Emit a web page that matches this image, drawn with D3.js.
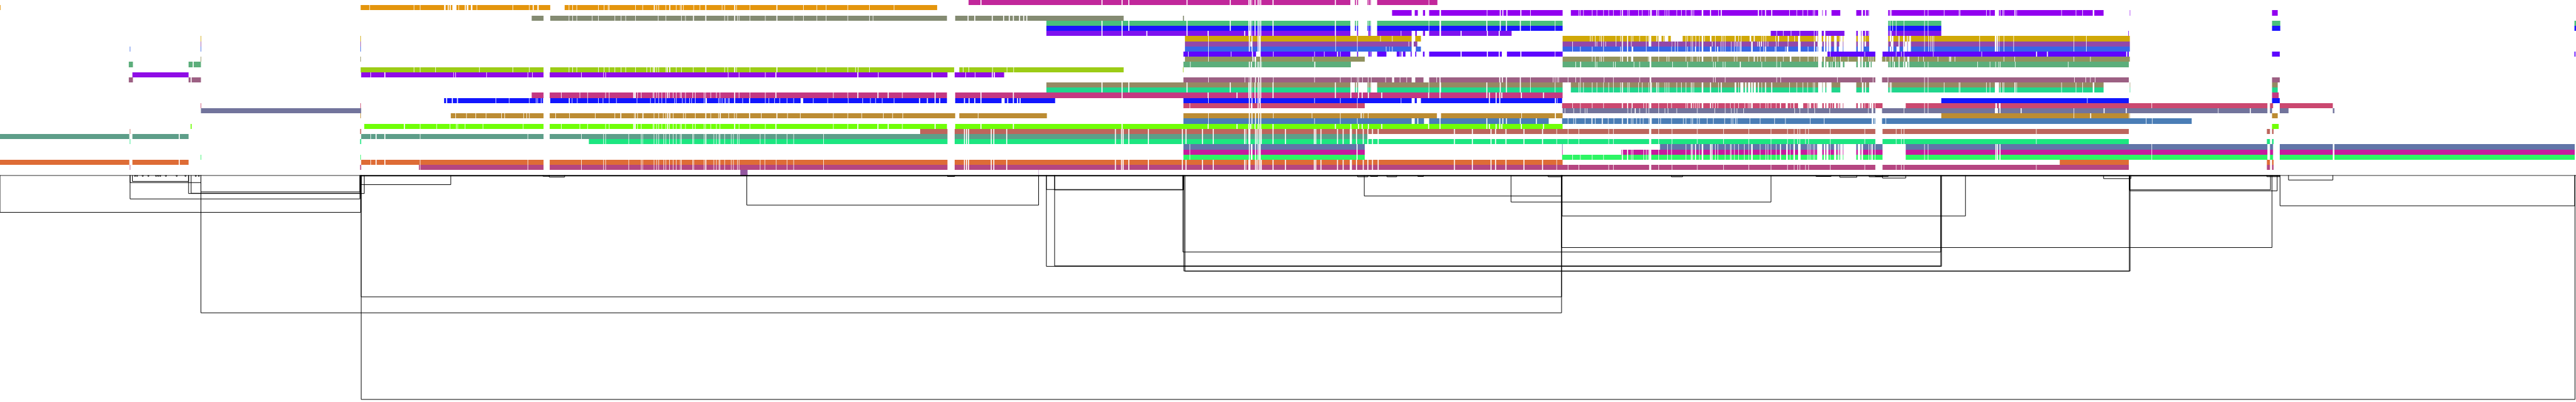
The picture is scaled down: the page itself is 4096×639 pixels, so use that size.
<!DOCTYPE html>
<html><head><meta charset="utf-8">
<script src="https://cdn.jsdelivr.net/npm/d3@7"></script>
<style>html,body{margin:0;padding:0;background:#fff;overflow:hidden}svg{display:block}</style>
</head><body><div id="chart"></div>
<script>
const WIDTH=4096, HEIGHT=639, REF_W=5000, REF_H=780, ROW_H=10;

const rowColors=["#c1279b","#e4950d","#9200f0","#848b72","#49c07c","#1c14ff","#7f12ef","#d0a807","#9248aa","#3867e6","#5e05ff","#91925e","#5cae7b","#9ccc16","#8f0ce6","#9c6083","#958963","#20d68c","#c43882","#1216ff","#cb4870","#72749c","#bc8c33","#4a7db6","#70ff07","#bd655c","#5d9e89","#1ce680","#6175a8","#c71b9d","#2df564","#de6c36","#b54681","#9458a0"];

// shared interval lists: [start,end,start,end,...] in genome-position units
const sharedA=[701,719,720,729,731,746,748,815,816,1024,1025,1055,1067,1128,1129,1171,1172,1175,1176,1220,1221,1244,1245,1247,1248,1269,1270,1274,1275,1278,1279,1288,1289,1292,1293,1299,1300,1306,1307,1312,1313,1320,1321,1322,1323,1344,1345,1346,1347,1366,1367,1369,1371,1385,1386,1390,1391,1395,1396,1397,1398,1406,1407,1419,1420,1423,1424,1431,1432,1434,1435,1475,1476,1484,1485,1506,1507,1527,1528,1540,1541,1598,1599,1839,1853,1871,1873,1875,1877,1879,1881,1923,1925,1928,1930,1953,1955,2164,2166,2176,2178,2179,2181,2190,2192,2228,2230,2294,2296,2301,2303,2333,2335,2354,2356,2415,2417,2418,2419,2423,2427,2436,2438,2439,2441,2443,2445,2446,2449,2470,2472,2494,2496,2550,2552,2553,2555,2563,2565,2595,2597,2606,2608,2620,2624,2632,2634,2645,2647,2654,2656,2663,2665,2674,2676,2822,2824,2857,2859,2893,2895,2902,2904,2922,2924,2957,2959,2993,2995,3021,3022,3043,3044,3064,3065,3122,3123,3131,3132,3201,3205,3219,3220,3245,3246,3294,3295,3345,3346,3394,3395,3437,3438,3469,3470,3482,3483,3489,3490,3493,3494,3504,3505,3510,3511,3552,3553,3619,3620,3640,3654,3680,3681,3690,3691,3695,3696,3952,3953,4132,4400,4406,4410,4413];
const sharedB=[2297,2309,2310,2424,2426,2428,2431,2436,2438,2441,2443,2444,2447,2633,2635,2649,3150,3158,3160,3166,3167,3169,3170,3190,3191,3195,3196,3199,3200,3201,3205,3219,3220,3236,3237,3244,3245,3272,3273,3282,3284,3285,3286,3290,3292,3298,3299,3303,3306,3319,3321,3322,3324,3329,3330,3334,3335,3348,3349,3358,3359,3360,3361,3366,3367,3374,3375,3385,3386,3394,3395,3399,3402,3416,3417,3427,3428,3431,3432,3437,3438,3447,3448,3455,3457,3467,3470,3474,3475,3481,3484,3490,3495,3508,3509,3511,3512,3514,3515,3519,3520,3522,3523,3527,3537,3540,3543,3545,3549,3552,3553,3560,3564,3567,3569,3570,3571,3572,3577,3578,3603,3606,3611,3613,3616,3627,3628,3631,3632,3633,3635,3639,3640,3654,3699,3735,3736,3742,3743,3873,3875,3876,3878,3881,3883,4176,4177,4401,4406,4412,4425,4528,4531,4997.5];
const sharedC=[1880,1903,1905,2138,2140,2177,2179,2190,2192,2303,2305,2387,2389,2423,2425,2426,2428,2429,2430,2435,2437,2441,2443,2444,2445,2446,2448,2470,2472,2591,2593,2621,2630,2632,2634,2636,2654,2655,2656,2659,2660,2661,2673,2773,2774,2794,2797,2885,2887,2911,2913,2923,2925,2950,2952,2970,2971,3018,3019,3033];
const sharedD=[3049,3064,3065,3067,3068,3073,3074,3090,3091,3099,3100,3112,3113,3122,3123,3131,3132,3145,3146,3148,3150,3159,3160,3162,3163,3180,3181,3187,3188,3200,3201,3203,3206,3215,3217,3219,3220,3231,3232,3235,3236,3239,3240,3254,3255,3263,3264,3272,3273,3282,3283,3284,3285,3287,3288,3303,3306,3319,3321,3335,3336,3340];
const sharedE=[1067,1089,1090,1125,1126,1140,1141,1175,1176,1182,1183,1229,1230.5,1231,1234,1237,1238,1244,1245,1267,1268,1269,1270,1274,1275,1278,1279,1284,1285,1292,1293,1295,1297,1299,1300,1306,1307,1312,1313,1320,1321,1322,1323,1330,1331,1344,1345,1349,1350,1366,1367,1369,1370,1379,1380,1390,1391,1397,1398,1425,1427,1434,1435,1455,1456,1485,1486,1505,1507,1617,1618,1645,1646,1664,1666,1703,1705,1723,1725,1751,1752,1814,1816,1838,1854,1903,1905,1966,1968,2177,2179,2344,2346,2400,2402,2423,2425,2426,2428,2429,2430,2435,2437,2441,2443,2444,2445,2446,2448,2470,2472,2591,2593,2621,2623,2636,2638,2643,2645,2655,2657,2681,2683,2772,2774,2794,2796,2885,2887,2890,2892,2903,2905,2910,2912,2914,2916,2952,2954,2995,2997,3033];
const tailRows7to9=[3709,3735,3736,3743,3744,3747,3748,3750,3751,3753,3754,3842,3843,3872,3875,3876,3878,3880,3881,3889,3890,3908,3909,4025,4026,4049,4050,4134];
const tailRows2and17=[3500,3508,3509,3519,3520,3522,3523,3529,3537,3538,3543,3545,3555,3572];
const lateRows2and17=[3665,3668,3670,3671,3672,3735,3736,3742,3743,3773,3774,3802,3803,3804,3805,3855,3856,3862,3863,3872,3880,3882,3883,3887,3888,3889,3890,3910,3912,3914,3915,4001,4002,4029,4030,4042,4043,4062,4065,4083,4134,4134.8,4410,4421];

// per-row interval lists
const row01=[0,1,700,717,718,803,804,815,816,862,865,869,871,873,875,878,886,890,891,902,904,906,909,914,917,925,926,995,996,1027,1028,1034,1036,1043,1045,1045.5,1046,1068,1096,1104,1105,1111,1112,1119,1120,1161,1162,1172,1173,1180,1181,1182,1183,1233,1234,1247,1248,1269,1271,1274,1275,1278,1279,1292,1293,1299,1301,1312,1313,1320,1321,1322,1323,1326,1327,1346,1347,1358,1359,1369,1371,1401,1402,1406,1407,1425,1427,1429,1430,1455,1456,1507,1509,1559,1560,1585,1586,1603,1604,1645,1646,1687,1688,1735,1736,1819];
const row02=[2702,2740,2746,2752,2762,2766,2774,2794,2797,2886,2887,2911,2913,2916,2918,2924,2926,2951,2953,2970,2971,3033,3342,3412,3414,3419,3420,3426,3428,3438,3440,3473,3474,3487,3488,3499];
const row03=[1032,1055,1068,1104,1105,1111,1112,1119,1120,1149,1150,1161,1162,1193,1194,1205,1206,1214,1215,1233,1234,1277,1278,1292,1293,1322,1323,1330,1331,1345,1347,1369,1371,1406,1407,1412,1413,1425,1427,1431,1432,1434,1435,1455,1456,1485,1486,1507,1509,1540,1541,1559,1560,1585,1586,1603,1604,1645,1646,1687,1688,1694,1695,1838,1854,1878,1880,1891,1893,1925,1927,1947,1949,1958,1960,1966,1968,1978,1980,1986,1988,1992,1994,2181,2296,2298];
const row0405tail=[3665,3668,3669,3673,3674,3680,3681,3695,3696,3735,3736,3742,3743,3768,4410,4426,4997,5000];
const row06=[2031,2138,2140,2177,2179,2225,2227,2303,2305,2344,2346,2415,2417,2423,2428,2429,2430,2435,2437,2441,2443,2444,2445,2446,2448,2470,2472,2591,2593,2621,2634,2636,2656,2659,2660,2661,2673,2719,2720,2740,2747,2750,2762,2766,2774,2794,2797,2835,2837,2886,2888,2909,2911,2934,3437,3448,3449,3461,3462,3476,3477,3493,3494,3521,3522,3526,3527,3529,3536,3540,3543,3580,3603,3606,3612,3613,3616,3620,3622,3626,3627,3628,3665,3668,3670,3671,3672,3680,3681,3695,3696,3735,3736,3742,3743,3768,4131,4132];
const row07=[389.5,390.5,699.5,700.5,2300,2345,2346,2424,2426,2429,2431,2441,2443,2444,2447,2592,2593,2634,2635,2679,2680,2702,2703,2740,2747,2758,3033,3086,3087,3090,3091,3096,3097,3105,3106,3108,3109,3112,3113,3136,3137,3145,3146,3148,3150,3158,3160,3166,3167,3169,3170,3182,3183,3195,3196,3199,3200,3201,3205,3215,3217,3219,3225,3229,3230,3231,3238,3243,3266,3272,3273,3275,3276,3282,3283,3285,3286,3291,3292,3298,3299,3303,3306,3308,3309,3319,3322,3329,3330,3341,3342,3344,3345,3348,3349,3367,3369,3374,3375,3379,3380,3396,3399,3404,3406,3419,3420,3423,3424,3427,3428,3446,3447,3451,3453,3470,3472,3483,3484,3490,3494,3521,3522,3524,3528,3529,3536,3539,3543,3545,3549,3550,3554,3560,3565,3570,3571,3572,3577,3578,3603,3606,3612,3613,3617,3620,3621,3628,3665,3668,3671,3672,3675,3685,3687,3694,3697,3701,3702,3703,3704,3706];
const row08=[389.5,390.5,699.5,700.5,2300,2345,2346,2424,2426,2427,2431,2441,2443,2444,2447,2592,2593,2634,2635,2734,2735,2740,2744,2751,3033,3052,3053,3096,3097,3099,3100,3108,3109,3112,3113,3116,3117,3136,3137,3148,3150,3158,3160,3166,3167,3195,3196,3200,3205,3219,3220,3245,3245.5,3251,3252,3256,3257,3272,3273,3282,3283,3285,3286,3291,3292,3298,3299,3303,3306,3323,3324,3329,3330,3340,3341,3344,3345,3348,3349,3360,3361,3366,3367,3369,3370,3372,3373,3375,3376,3378,3380,3399,3402,3411,3412,3414,3416,3418,3420,3423,3424,3427,3428,3431,3432,3447,3448,3451,3452,3470,3471,3490,3495,3521,3523,3528,3537,3540,3543,3545,3549,3550,3554,3560,3565,3570,3577,3578,3603,3606,3612,3613,3617,3619,3622,3628,3665,3670,3675,3685,3687,3694,3696,3697,3702,3703];
const row09=[252,253,389.5,390.5,699.5,700.5,2300,2345,2346,2424,2426,2429,2431,2441,2443,2444,2447,2592,2593,2634,2635,2690,2691,2697,2697.5,2702,2703,2740,2748,2758,3033,3052,3053,3067,3068,3090,3091,3112,3113,3145,3146,3148,3150,3158,3160,3167,3170,3195,3196,3219,3220,3244,3245,3251,3252,3256,3257,3272,3273,3275,3276,3282,3283,3285,3286,3290,3292,3298,3299,3303,3306,3319,3322,3329,3330,3333,3335,3340,3341,3344,3345,3348,3349,3360,3361,3366,3367,3371,3372,3375,3376,3378,3380,3399,3402,3416,3417,3423,3424,3426,3428,3445,3446,3447,3448,3465,3466,3468,3471,3490,3495,3509,3510,3521,3523,3526,3528,3529,3536,3540,3543,3545,3549,3550,3554,3560,3565,3569,3577,3578,3603,3606,3612,3613,3617,3628,3665,3668,3671,3672,3675,3681,3687,3694,3702,3703];
const row10=[2297,2306,2307,2345,2346,2389,2390,2430,2432,2438,2447,2471,2472,2551,2552,2570,2571,2595,2597,2601,2602,2621,2634,2636,2656,2659,2660,2662,2673,2691,2711,2717,2718,2720,2723,2728,2738,2740,2747,2749,2762,2765,2774,2835,2837,2886,2888,2909,2911,2915,2925,2951,2953,3018,3019,3033,3547,3552,3553,3619,3620,3640,3654,3680,3681,3690,3691,3695,3696,3752,3753,3846,3847,3952,3954,3973,3975,4127,4129,4132,4410,4425,4997,4999];
const row11=[389.5,390.5,699.5,700.5,2300,2345,2346,2431,2433,2435,2438,2446,2448,2548,2549,2649,3033,3090,3091,3096,3097,3105,3106,3108,3109,3112,3113,3145,3146,3148,3150,3158,3160,3166,3170,3199,3200,3201,3205,3219,3220,3235,3236,3239,3240,3272,3273,3282,3283,3285,3286,3294,3295,3298,3299,3303,3306,3323,3324,3334,3335,3366,3367,3371,3372,3394,3395,3404,3406,3411,3412,3417,3418,3426,3427,3448,3449,3461,3462,3474,3477,3493,3494,3509,3510,3521,3522,3526,3527,3529,3537,3540,3543,3559,3560,3562,3563,3572,3573,3587,3588,3606,3611,3613,3616,3627,3628,3631,3632,3635,3636,3640,3653,3660,3661,3668,3669,3673,3675,3685,3687,3695,3696,3697,3698,3702,3706,3723,3724,3733,3734,3761,3762,3783,3784,3785,3787,3794,3795,3889,3890,3910,3911,4025,4026,4057,4058,4134];
const row12=[250,258,366,374,376,390,2297,2310,2311,2424,2426,2428,2430,2436,2438,2441,2443,2445,2447,2448,2449,2551,2553,2622,3033,3058,3059,3067,3069,3096,3097,3099,3100,3131,3132,3135,3136,3171,3172,3182,3183,3202,3205,3246,3247,3275,3276,3325,3326,3329,3330,3344,3345,3348,3349,3377,3379,3419,3420,3448,3449,3456,3457,3529,3536,3540,3543,3545,3549,3553,3554,3556,3557,3562,3564,3567,3568,3572,3577,3580,3603,3606,3611,3613,3616,3620,3622,3628,3631,3633,3665,3668,3669,3673,3674,3676,3678,3685,3687,3694,3696,3698,3702,3704,3706,3735,3736,3742,3743,3838,3839,3862,3863,3873,3874,3879,3880,3882,3883,3911,3912,4014,4015,4132];
const row13=[700,803,804,815,816,845,846,930,931,995,996,1027,1028,1055,1068,1104,1105,1111,1112,1119,1120,1161,1162,1172,1173,1182,1183,1193,1194,1205,1206,1214,1215,1233,1234,1255,1256,1262,1263,1267,1268,1269,1271,1274,1275,1278,1279,1292,1293,1294,1296,1299,1301,1312,1313,1322,1323,1345,1346,1369,1371,1406,1407,1412,1413,1425,1427,1429,1430,1455,1456,1507,1509,1585,1586,1603,1604,1645,1646,1660,1661,1665,1666,1687,1688,1852,1862,1869,1870,1880,1881,1926,1927,1954,1955,1967,1968,2181,2296,2297];
const row14=[257,366,701,719,720,746,748,880,881,884,885,944,945,1024,1025,1033,1034,1055,1067,1128,1129,1171,1172,1175,1176,1413,1414,1434,1435,1485,1486,1505,1507,1664,1666,1704,1705,1808,1810,1839,1853,1874,1875,1892,1893,1925,1927,1929,1931,1949];
const row15=[250,258,366,370,372,390,2297,2345,2346,2416,2417,2424,2425,2427,2429,2436,2438,2442,2444,2446,2448,2471,2472,2551,2552,2601,2602,2622,2623,2634,2635,2637,2638,2644,2645,2655,2656,2661,2662,2689,2690,2702,2706,2717,2718,2730,2731,2740,2747,2763,2774,2788,2789,2794,2796,2910,2912,2915,2917,2923,2925,2950,2952,2970,2971,3014,3015,3018,3019,3022,3023,3025,3026,3043,3044,3058,3059,3067,3068,3113,3114,3131,3132,3182,3183,3202,3205,3325,3326,3329,3330,3348,3349,3448,3449,3456,3457,3566,3567,3612,3613,3635,3636,3640,3653,3664,3665,3735,3736,3742,3743,4026,4027,4048,4049,4057,4058,4066,4067,4132,4410,4425];
const row16and17tail=[3342,3367,3370,3374,3375,3378,3384,3387,3390,3393,3397,3399,3402,3404,3408,3412,3414,3419,3420,3426,3428,3438,3440,3473,3474,3487,3488,3499];
const row18head=[1032,1055];
const row19=[862,866,868,877,879,887,889,962,963,988,989,1027,1028,1040,1041,1043,1044,1050,1051,1054,1068,1104,1106,1110,1111,1120,1121,1140,1141,1161,1162,1170,1171,1182,1183,1196,1197,1236,1237,1262,1263,1271,1272,1278,1279,1284,1285,1292,1293,1309,1310,1312,1313,1324,1325,1330,1331,1338,1339,1342,1343,1349,1350,1366,1367,1369,1372,1394,1395,1397,1398,1401,1402,1406,1407,1408,1409,1413,1414,1415,1416,1425,1427,1441,1442,1454,1456,1485,1486,1492,1493,1503,1504,1513,1514,1527,1528,1540,1541,1554,1559,1578,1579,1606,1607,1646,1647,1674,1675,1689,1690,1699,1700,1712,1713,1735,1736,1784,1786,1799,1801,1814,1816,1823,1825,1838,1854,1871,1873,1880,1882,1891,1893,1903,1905,1944,1950,1955,1957,1966,1968,1974,1976,1979,1981,2048,2297,2345,2346,2424,2426,2429,2431,2436,2438,2441,2443,2444,2447,2551,2552,2601,2602,2634,2635,2719,2720,2740,2746,2750,2758,2890,2892,2903,2905,2910,2912,3018,3020,3022,3023,3032,3768,4051,4052,4132,4410,4425];
const row20=[389.5,390.5,699.5,700.5,2297,2309,2310,2424,2426,2428,2431,2441,2443,2445,2447,2634,2635,2649,3032,3052,3053,3067,3068,3090,3091,3112,3113,3148,3150,3158,3160,3167,3169,3190,3191,3195,3196,3200,3201,3201.5,3205,3219,3220,3236,3237,3244,3245,3272,3273,3275,3276,3282,3284,3287,3288,3291,3292,3295,3296,3298,3299,3303,3306,3319,3321,3324,3325,3329,3330,3334,3335,3348,3349,3358,3359,3366,3367,3374,3375,3386,3387,3393,3394,3396,3397,3399,3402,3416,3417,3427,3428,3431,3432,3437,3438,3447,3448,3455,3457,3466,3470,3475,3476,3481,3483,3490,3500,3508,3509,3510,3511,3512,3515,3520,3521,3522,3523,3526,3527,3528,3537,3540,3543,3545,3549,3552,3553,3556,3557,3560,3564,3567,3569,3570,3571,3572,3577,3578,3603,3606,3611,3613,3616,3619,3620,3627,3628,3629,3632,3633,3636,3639,3640,3654,3699,3735,3736,3742,3743,3873,3876,3880,3883,4176,4177,4401,4406,4412,4425,4528];
const row21=[390,701,3033,3037,3038,3054,3055,3067,3068,3076,3077,3080,3081,3159,3160,3166,3167,3173,3175,3182,3183,3195,3196,3200,3201,3219,3220,3231,3232,3237,3238,3254,3255,3294,3295,3328,3329,3348,3349,3360,3361,3366,3367,3371,3372,3384,3385,3483,3484,3493,3494,3509,3510,3522,3523,3551,3552,3626,3627,3633,3636,3640,3653,3695,3696,3735,3736,3742,3743,3872,3878,3881,3883,3922,3924,4025,4026,4083,4085,4126,4128,4305,4306,4367,4369,4401,4406,4410,4425,4442,4528,4531];
const row22=[699.5,700.5,875,884,885,905,906,923,924,943,944,973,974,979,980,1016,1017,1022,1023,1027,1028,1055,1067,1078,1079,1105,1106,1155,1156,1193,1194,1204,1206,1231,1232,1233,1234,1237,1238,1247,1249,1269,1270,1278,1279,1287,1288,1292,1293,1295,1297,1299,1301,1306,1307,1326,1327,1330,1331,1349,1350,1369,1371,1379,1380,1394,1395,1397,1399,1414,1415,1425,1426,1429,1430,1454,1456,1477,1478,1507,1509,1528,1529,1553,1554,1617,1618,1645,1646,1672,1673,1714,1715,1732,1733,1752,1753,1854,1862,1898,1899,2032,2297,2345,2346,2424,2426,2429,2431,2436,2438,2442,2444,2446,2448,2471,2472,2546,2547,2601,2602,2641,2643,2646,2647,2655,2656,2789,2797,2953,2954,3018,3020,3033,3768,4025,4026,4057,4059,4132,4133,4134,4410,4421];
const row23=[2297,2345,2346,2424,2426,2429,2431,2436,2438,2442,2444,2446,2448,2551,2552,2601,2602,2634,2635,2740,2746,2751,2753,2764,2774,2794,2796,2885,2887,2910,2912,2916,2918,2923,2925,2950,2952,2981,2983,3006,3032,3043,3044,3054,3055,3058,3059,3076,3077,3089,3091,3096,3097,3109,3111,3121,3122,3132,3133,3148,3150,3158,3160,3166,3167,3169,3170,3176,3177,3183,3184,3189,3190,3200,3201,3202,3206,3219,3220,3223,3224,3244,3245,3267,3268,3272,3273,3282,3283,3285,3286,3294,3295,3298,3299,3313,3314,3325,3326,3347,3348,3360,3361,3363,3364,3368,3369,3371,3372,3396,3397,3416,3417,3444,3445,3465,3466,3513,3514,3540,3541,3633,3636,3638,3639,3640,3653,3660,3661,4165,4166,4177,4178,4254];
const row24head=[370,372,707,784,786,815,816,847,848,873,874,885,886,888,889,902,903,937,938,1015,1016,1055];
const edgeTicks=[252,253,699,701];
const row26head=[0,251,257,347,349,366];
const row29tick=[3032,3033];
const row30head=[389.5,390.5,699.5,700.5];
const row30mid=[3032,3052,3053,3067,3068,3090,3091,3112,3113,3148];
const row32tick=[813,815];
const row33=[1437,1451,2015.5,2016];

// keeps the part of a flat interval list that lies inside a window of positions
function clip(list,lo,hi){
  const o=[];
  for(let i=0;i<list.length;i+=2){
    const a=Math.max(list[i],lo),b=Math.min(list[i+1],hi);
    if(b>a)o.push(a,b);
  }
  return o;
}

const rowLists=[
 clip(sharedC,1880,2790),
 row01,
 [...row02.slice(0,22),...clip(sharedD,3049,3340),...row02.slice(22),...tailRows2and17,3603,3613,3616,3620,3622,3626,3627,3628,...lateRows2and17],
 row03,
 [...clip(sharedC,2031,3033),...row0405tail],
 [...clip(sharedC,2031,3033),...row0405tail],
 row06,
 [...row07,...tailRows7to9],
 [...row08,...tailRows7to9],
 [...row09,...tailRows7to9],
 row10,row11,row12,row13,row14,row15,
 [...clip(sharedC,2031,3033),...clip(sharedD,3049,3340),...row16and17tail,...tailRows2and17,3603,3614,3617,3620,3622,3628,...lateRows2and17],
 [...clip(sharedC,2031,3033),...clip(sharedD,3049,3340),...row16and17tail,...tailRows2and17,3603,3614,3617,3620,3622,3628,...lateRows2and17],
 [...row18head,...sharedE,4410,4423],
 row19,row20,row21,row22,row23,
 [...row24head,...sharedE,4410,4423],
 [...edgeTicks,...clip(sharedA,1786,4413)],
 [...row26head,...clip(sharedA,701,2655)],
 [...edgeTicks,...clip(sharedA,1143,4413)],
 [...clip(sharedB,2297,2649),...row29tick,...clip(sharedB,3222,4998)],
 [...clip(sharedB,2297,2649),...row29tick,3147,3148,...clip(sharedB,3150,4998)],
 [...row30head,...clip(sharedB,2297,2649),...row30mid,...clip(sharedB,3150,4998)],
 [...row26head,...clip(sharedA,701,3033),3998,4132,4400,4406,4410,4413],
 [...edgeTicks,...row32tick,...clip(sharedA,816,4413)],
 row33
];

// connector brackets: start, end and drop level
const bracketStarts=[0,252.5,257,252.5,390,366,371,701.5,390,701,701,1449.5,2047,2031,2031,2047,2296,2298,2300,2648,2933,3032,3031,4133,4134,4425.5,4442,4083,1054,1066,1839,2635,2660,2692,2752,3005,3244,3525,3571,3628,3640,3654,4400,261,265,276,287,302,306,310,321,342,359,379,385];
const bracketEnds=[700,698.5,366,390,698.5,707,700,875,3031,3031,4998,2016,3767,3768.5,2296,2297,3767,4133,4134.5,3031,3437.5,3815,4410,4407,4420,4997.5,4528,4136,1066,1096,1853,2655,2674,2711,2763,3032,3266,3554,3604,3654,3665,3699,4425,263,267,278,289,304,308,312,323,344,361,381,387];
const bracketDepths=[412,386,352,354.3,372.3,375.5,375,358.3,607,576,775,398,516,516.8,367.7,368.5,489,526,526,380.3,392,419,480.3,368.3,370.3,399.3,349.3,346.5,342,343.5,342.5,343,342.5,343,342.5,343,343,342.5,344,343,342.5,345.5,342.8,342,342,342,342,342,342,342,342,342,342,342,342];
const baselineStarts=[0,701];
const baselineEnds=[5000,4425];
const baselineWeights=[1,2];
const BASE_Y=340;
const LINE_W=1.2;

const x=d3.scaleLinear().domain([0,REF_W]).range([0,WIDTH]);
const y=d3.scaleLinear().domain([0,REF_H]).range([0,HEIGHT]);
const rowIndex=d3.range(rowColors.length);
const k=WIDTH/REF_W;

const svg=d3.select("#chart").append("svg").attr("width",WIDTH).attr("height",HEIGHT).attr("viewBox",`0 0 ${WIDTH} ${HEIGHT}`);
svg.append("rect").attr("width",WIDTH).attr("height",HEIGHT).attr("fill","#fff");

const rows=svg.append("g").selectAll("g").data(rowIndex).join("g").attr("fill",r=>rowColors[r]);
rows.selectAll("rect").data(r=>{
  const l=rowLists[r],out=[];
  for(let i=0;i<l.length;i+=2)out.push({r,a:l[i],b:l[i+1]});
  return out;
}).join("rect")
  .attr("x",d=>x(d.a))
  .attr("width",d=>x(d.b)-x(d.a))
  .attr("y",d=>Math.round(y(d.r*ROW_H)))
  .attr("height",d=>Math.round(y((d.r+1)*ROW_H))-Math.round(y(d.r*ROW_H)));

const links=svg.append("g").attr("fill","none").attr("stroke","#000").attr("stroke-width",LINE_W*k);
links.selectAll("path").data(bracketStarts.map((s,i)=>({s,e:bracketEnds[i],d:bracketDepths[i]}))).join("path")
  .attr("d",d=>`M${x(d.s)},${y(BASE_Y)}V${y(d.d)}H${x(d.e)}V${y(BASE_Y)}`);
svg.append("g").attr("stroke","#000").selectAll("line").data(baselineStarts.map((s,i)=>({s,e:baselineEnds[i],w:baselineWeights[i]}))).join("line")
  .attr("x1",d=>x(d.s)).attr("x2",d=>x(d.e))
  .attr("y1",d=>y(BASE_Y+d.w/2)).attr("y2",d=>y(BASE_Y+d.w/2))
  .attr("stroke-width",d=>d.w*k);
</script></body></html>
